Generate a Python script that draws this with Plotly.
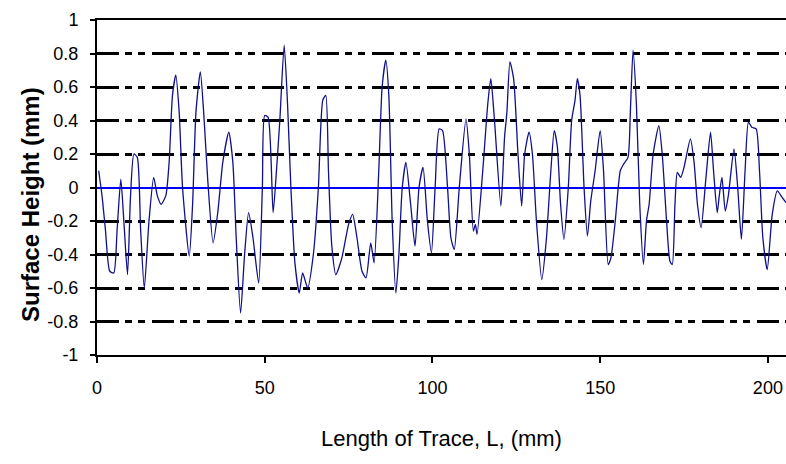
import plotly.graph_objects as go

# Length of trace (mm) and surface height (mm)
trace_length = [
    0.5, 1.5, 2.5, 3.8, 5.0, 6.0, 7.1, 8.0, 9.1, 10.0, 11.0, 12.0, 13.0, 14.1, 15.5, 16.9,
    18.0, 19.1, 20.5, 21.5, 22.5, 23.5, 24.5, 25.5, 27.5, 28.5, 29.5, 30.8, 31.8, 33.0,
    34.6, 36.0, 37.5, 39.3, 40.5, 41.5, 42.8, 44.0, 45.2, 46.5, 48.2, 49.3, 50.0, 51.0,
    52.5, 53.5, 54.5, 55.8, 56.8, 57.8, 59.0, 60.3, 61.3, 62.8, 64.5, 66.0, 67.3, 68.2,
    69.0, 70.0, 71.2, 73.0, 75.0, 76.2, 77.5, 79.0, 80.2, 81.6, 82.6, 84.0, 85.0, 86.1,
    87.0, 88.0, 89.1, 90.0, 91.0, 92.1, 93.5, 94.8, 96.0, 97.2, 98.5, 99.7, 100.8, 102.0,
    103.0, 104.5, 105.5, 106.5, 108.0, 110.0, 111.0, 112.2, 112.8, 113.3, 115.0, 116.5,
    117.4, 118.5, 120.4, 121.5, 122.2, 123.1, 124.2, 125.5, 126.6, 127.5, 128.8, 129.8,
    131.0, 132.6, 134.0, 135.3, 136.3, 137.2, 138.2, 139.2, 140.5, 141.5, 142.5, 143.2,
    144.0, 145.2, 146.2, 147.2, 148.5, 150.0, 151.0, 152.4, 153.2, 154.5, 156.0, 157.0,
    158.3, 159.0, 159.8, 160.8, 161.8, 162.9, 163.8, 164.6, 165.8, 167.5, 168.5, 169.8,
    170.8, 171.5, 172.3, 173.0, 174.0, 175.0, 176.9, 178.0, 179.0, 180.1, 181.5, 182.9,
    183.8, 184.9, 185.5, 186.3, 187.3, 188.2, 189.9, 191.0, 192.1, 193.2, 194.2, 195.2,
    196.5, 197.5, 198.5, 199.8, 201.3, 202.8, 204.3, 205.4,
]
surface_height = [
    0.10, -0.05, -0.25, -0.50, -0.51, -0.25, 0.05, -0.20, -0.52, -0.05, 0.20, 0.18, -0.25, -0.60, -0.20, 0.06,
    -0.05, -0.10, -0.05, 0.15, 0.55, 0.67, 0.45, 0.00, -0.41, -0.10, 0.45, 0.69, 0.45, 0.05,
    -0.33, -0.15, 0.15, 0.33, 0.15, -0.30, -0.75, -0.40, -0.15, -0.30, -0.57, 0.00, 0.43, 0.42,
    -0.15, 0.10, 0.40, 0.85, 0.50, 0.00, -0.45, -0.63, -0.51, -0.60, -0.40, 0.00, 0.52, 0.55,
    0.10, -0.35, -0.52, -0.42, -0.22, -0.16, -0.30, -0.50, -0.54, -0.33, -0.45, 0.10, 0.60, 0.76,
    0.55, -0.20, -0.63, -0.40, 0.00, 0.15, -0.10, -0.35, 0.00, 0.12, -0.20, -0.39, 0.00, 0.35,
    0.34, 0.00, -0.30, -0.37, 0.00, 0.41, 0.20, -0.26, -0.22, -0.28, 0.10, 0.50,
    0.65, 0.40, -0.11, 0.30, 0.45, 0.75, 0.65, 0.20, -0.11, 0.20, 0.33, 0.20,
    -0.20, -0.55, -0.30, 0.10, 0.34, 0.25, -0.10, -0.31, 0.00, 0.40, 0.52, 0.65,
    0.55, 0.00, -0.29, -0.08, 0.10, 0.34, 0.10, -0.46, -0.42, -0.20, 0.10, 0.14,
    0.18, 0.45, 0.82, 0.50, -0.10, -0.46, -0.20, -0.10, 0.20, 0.37, 0.20, -0.20,
    -0.44, -0.46, -0.10, 0.09, 0.06, 0.12, 0.29, 0.15, -0.10, -0.24, 0.05, 0.33,
    0.10, -0.15, -0.05, 0.06, -0.14, -0.05, 0.23, 0.00, -0.31, 0.10, 0.39, 0.36,
    0.35, 0.10, -0.30, -0.49, -0.16, -0.02, -0.06, -0.09,
]

x_ticks = [0, 50, 100, 150, 200]
y_ticks = [1, 0.8, 0.6, 0.4, 0.2, 0, -0.2, -0.4, -0.6, -0.8, -1]
y_tick_text = ["1", "0.8", "0.6", "0.4", "0.2", "0", "-0.2", "-0.4", "-0.6", "-0.8", "-1"]

fig = go.Figure()
fig.add_trace(go.Scatter(
    x=trace_length, y=surface_height, mode="lines",
    line=dict(color="#10108a", width=1.3, shape="spline", smoothing=0.6),
    showlegend=False, hoverinfo="skip",
))

font_family = "Liberation Sans, Arial, sans-serif"
W, H = 786, 464
ml, mr, mt, mb = 97, 0, 20, 109
fig.update_layout(
    width=W, height=H,
    margin=dict(l=ml, r=mr, t=mt, b=mb),
    paper_bgcolor="white", plot_bgcolor="white",
    font=dict(family=font_family, color="black", size=18),
    xaxis=dict(
        range=[0, 205.4], tickvals=x_ticks, showgrid=False, zeroline=False,
        showline=True, linecolor="black", linewidth=2, mirror=True,
        ticks="outside", ticklen=6, tickwidth=2, tickcolor="black",
        ticklabelstandoff=9,
        tickfont=dict(size=18),
        title=dict(text="Length of Trace, L, (mm)", font=dict(size=22), standoff=34),
    ),
    yaxis=dict(
        range=[-1, 1], tickvals=y_ticks, ticktext=y_tick_text,
        showgrid=True, gridcolor="black", gridwidth=2.5,
        griddash="22px,6px,7px,6px,7px,7px",
        zeroline=True, zerolinecolor="#0000ff", zerolinewidth=2,
        showline=True, linecolor="black", linewidth=2,
        ticks="outside", ticklen=5, tickwidth=2, tickcolor="black",
        ticklabelstandoff=8,
        tickfont=dict(size=18),
    ),
)

# Y-axis title placed as an annotation to match the reference position
title_x_px, title_y_px = 30, 205
fig.add_annotation(
    text="<b>Surface Height (mm)</b>", textangle=-90,
    xref="paper", yref="paper",
    x=(title_x_px - ml) / (W - ml - mr),
    y=(H - mb - title_y_px) / (H - mt - mb),
    xanchor="center", yanchor="middle", showarrow=False,
    font=dict(size=24, family=font_family, color="black"),
)

fig.write_html("out.html")
